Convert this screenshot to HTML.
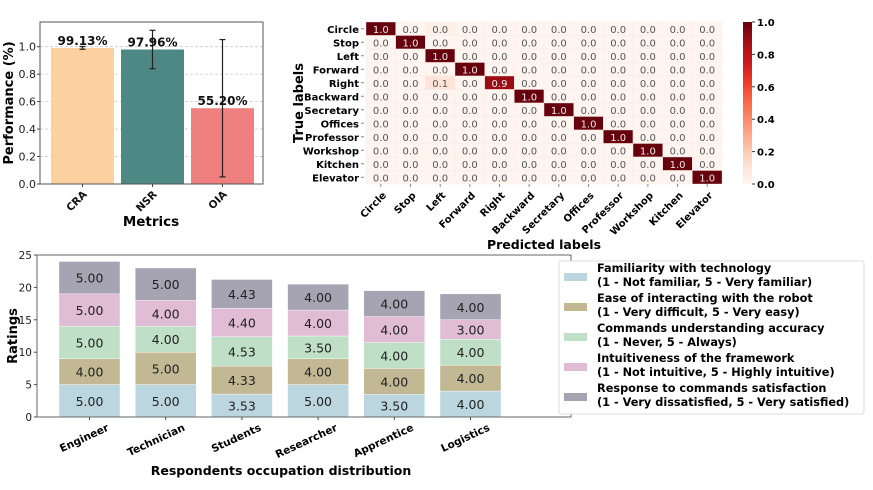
<!DOCTYPE html>
<html><head><meta charset="utf-8"><style>
html,body{margin:0;padding:0;background:#fff;width:873px;height:490px;overflow:hidden}
svg{font-family:"DejaVu Sans","Liberation Sans",sans-serif;display:block}
</style></head><body>
<svg id="s" width="873" height="490" viewBox="0 0 873 490" xmlns="http://www.w3.org/2000/svg"></svg>
<script>
// ---- Performance chart data ----
const perfCats = ['CRA','NSR','OIA'];
const perfVals = [0.9913, 0.9796, 0.552];
const perfErr = [0.01, 0.14, 0.50];
const perfLabels = ['99.13%','97.96%','55.20%'];
const perfColors = ['#fdd19f','#4e8884','#f08080'];
const perfTicks = [0,0.2,0.4,0.6,0.8,1.0];
// ---- Confusion matrix data ----
const cmLabels = ['Circle','Stop','Left','Forward','Right','Backward','Secretary','Offices','Professor','Workshop','Kitchen','Elevator'];
const cmOff = [[0,2,0.03],[4,2,0.1]];
const cmDiag = [1,1,1,1,0.9,1,1,1,1,1,1,1];
const cbTicks = [0,0.2,0.4,0.6,0.8,1.0];
// ---- Ratings chart data ----
const occCats = ['Engineer','Technician','Students','Researcher','Apprentice','Logistics'];
const serFamiliarity = [5,5,3.53,5,3.5,4];
const serEase = [4,5,4.33,4,4,4];
const serAccuracy = [5,4,4.53,3.5,4,4];
const serIntuitive = [5,4,4.40,4,4,3];
const serResponse = [5,5,4.43,4,4,4];
const ratTicks = [0,5,10,15,20,25];
const serNames = [['Familiarity with technology','(1 - Not familiar, 5 - Very familiar)'],['Ease of interacting with the robot','(1 - Very difficult, 5 - Very easy)'],['Commands understanding accuracy','(1 - Never, 5 - Always)'],['Intuitiveness of the framework','(1 - Not intuitive, 5 - Highly intuitive)'],['Response to commands satisfaction','(1 - Very dissatisfied, 5 - Very satisfied)']];
const serColors = ['#bcd6e0','#c2b894','#bfe0c7','#e0bcd5','#a6a3b2'];

const S=document.getElementById('s');const NS='http://www.w3.org/2000/svg';
function el(t,a,txt){const e=document.createElementNS(NS,t);for(const k in a)e.setAttribute(k,a[k]);if(txt!==undefined)e.textContent=txt;S.appendChild(e);return e;}

// ===== Performance =====
const pY=v=>184-v*137.3, pX=i=>82.5+i*70;
perfTicks.forEach(t=>{
  let g=el('line',{x1:40,x2:263,y1:pY(t),y2:pY(t),stroke:'#ccc','stroke-dasharray':'3,2','stroke-width':0.8});
  
  let l=el('text',{x:36,y:pY(t)+4,'font-size':11,'text-anchor':'end',fill:'#222'},t.toFixed(1));
  
  el('line',{x1:37,x2:40,y1:pY(t),y2:pY(t),stroke:'#444'});
});
perfVals.forEach((v,i)=>{
  let r=el('rect',{x:pX(i)-31.5,y:pY(v),width:63,height:pY(0)-pY(v),fill:perfColors[i]});
  
  let e=el('g',{stroke:'#222','stroke-width':1.2});
  
  const t=pY(v+perfErr[i]),b=pY(v-perfErr[i]);
  [[pX(i),t,pX(i),b],[pX(i)-3,t,pX(i)+3,t],[pX(i)-3,b,pX(i)+3,b]].forEach(c=>{const ln=document.createElementNS(NS,'line');ln.setAttribute('x1',c[0]);ln.setAttribute('y1',c[1]);ln.setAttribute('x2',c[2]);ln.setAttribute('y2',c[3]);e.appendChild(ln);});
  let lb=el('text',{x:pX(i),y:pY(v)-3,'font-size':12,'font-weight':'bold','text-anchor':'middle',fill:'#111'},perfLabels[i]);
  
  el('line',{x1:pX(i),x2:pX(i),y1:184,y2:187,stroke:'#444'});
  let xl=el('text',{x:pX(i)+5,y:195,'font-size':10.5,'font-weight':'bold','text-anchor':'end',transform:`rotate(-45 ${pX(i)+5} 195)`,fill:'#111'},perfCats[i]);
  
});
let pf=el('rect',{x:40,y:22,width:223,height:162,fill:'none',stroke:'#555','stroke-width':1});

let pyt=el('text',{x:13,y:103,'font-size':13,'font-weight':'bold','text-anchor':'middle',transform:'rotate(-90 13 103)'},'Performance (%)');

let pxt=el('text',{x:151,y:226,'font-size':13.5,'font-weight':'bold','text-anchor':'middle'},'Metrics');


// ===== Confusion matrix =====
const cw=29.67,ch=13.5,cx0=366,cy0=22;
function reds(v){const st=[[0,[255,245,240]],[0.125,[254,224,210]],[0.25,[252,187,161]],[0.375,[252,146,114]],[0.5,[251,106,74]],[0.625,[239,59,44]],[0.75,[203,24,29]],[0.875,[165,15,21]],[1,[103,0,13]]];
  for(let i=1;i<st.length;i++){if(v<=st[i][0]){const a=st[i-1],b=st[i],t=(v-a[0])/(b[0]-a[0]);return 'rgb('+a[1].map((c,k)=>Math.round(c+(b[1][k]-c)*t)).join(',')+')';}}return 'rgb(103,0,13)';}
for(let r=0;r<12;r++)for(let c=0;c<12;c++){
  let v=r===c?cmDiag[r]:0; cmOff.forEach(o=>{if(o[0]===r&&o[1]===c)v=o[2];});
  let rc=el('rect',{x:cx0+c*cw,y:cy0+r*ch,width:cw,height:ch,fill:reds(v),stroke:'#fbe8e2','stroke-width':0.4});
  
  let tx=el('text',{x:cx0+c*cw+cw/2,y:cy0+r*ch+ch/2+4,'font-size':10,'text-anchor':'middle',fill:v>0.5?'#eee':'#555'},(Math.round(v*10)/10).toFixed(1));
  
}
cmLabels.forEach((n,i)=>{
  let yl=el('text',{x:359,y:cy0+i*ch+ch/2+4,'font-size':10,'font-weight':'bold','text-anchor':'end'},n);
  
  el('line',{x1:361,x2:364,y1:cy0+i*ch+ch/2,y2:cy0+i*ch+ch/2,stroke:'#888'});
  const xx=cx0+i*cw+cw/2;
  el('line',{x1:xx,x2:xx,y1:184,y2:187,stroke:'#888'});
  let xl=el('text',{x:xx+6,y:196,'font-size':10,'font-weight':'bold','text-anchor':'end',transform:`rotate(-45 ${xx+6} 196)`},n);
  
});
const defs=el('defs',{});defs.innerHTML='<linearGradient id="cbg" x1="0" y1="1" x2="0" y2="0">'+[0,0.125,0.25,0.375,0.5,0.625,0.75,0.875,1].map(o=>`<stop offset="${o}" stop-color="${reds(o)}"/>`).join('')+'</linearGradient>';
let cb=el('rect',{x:743,y:22,width:9,height:162,fill:'url(#cbg)'});

cbTicks.forEach(t=>{const y=184-t*162;el('line',{x1:752,x2:755,y1:y,y2:y,stroke:'#333'});
  let l=el('text',{x:757,y:y+4,'font-size':10,'font-weight':'bold'},t.toFixed(1));});
let cxt=el('text',{x:544,y:249,'font-size':12.5,'font-weight':'bold','text-anchor':'middle'},'Predicted labels');

let cyt=el('text',{x:303,y:103,'font-size':13,'font-weight':'bold','text-anchor':'middle',transform:'rotate(-90 303 103)'},'True labels');


// ===== Ratings stacked bars =====
const rY=v=>417-v*6.48, rX=i=>89.5+i*76.2;
const series=[serFamiliarity,serEase,serAccuracy,serIntuitive,serResponse];
ratTicks.forEach(t=>{el('line',{x1:34,x2:37,y1:rY(t),y2:rY(t),stroke:'#444'});
  let l=el('text',{x:32,y:rY(t)+4,'font-size':10.5,'text-anchor':'end',fill:'#222'},t);});
occCats.forEach((c,i)=>{
  let base=0;
  series.forEach((s,k)=>{
    const v=s[i];
    let r=el('rect',{x:rX(i)-30.5,y:rY(base+v),width:61,height:rY(base)-rY(base+v),fill:serColors[k],stroke:'#fff','stroke-width':0.4});
    
    let t=el('text',{x:rX(i),y:(rY(base)+rY(base+v))/2+5,'font-size':12.5,'text-anchor':'middle',fill:'#222'},v.toFixed(2));
    
    base+=v;
  });
  el('line',{x1:rX(i),x2:rX(i),y1:417,y2:420,stroke:'#444'});
  let xl=el('text',{x:rX(i)+20,y:430,'font-size':10.5,'font-weight':'bold','text-anchor':'end',transform:`rotate(-25 ${rX(i)+20} 430)`},c);
  
});
let rf=el('rect',{x:37,y:255,width:534,height:162,fill:'none',stroke:'#666','stroke-width':1});

let ryt=el('text',{x:17,y:336,'font-size':13,'font-weight':'bold','text-anchor':'middle',transform:'rotate(-90 17 336)'},'Ratings');

let rxt=el('text',{x:281,y:475,'font-size':12.5,'font-weight':'bold','text-anchor':'middle'},'Respondents occupation distribution');

let lg=el('rect',{x:559,y:261,width:305,height:153,fill:'#fff',stroke:'#ddd',rx:2});

serNames.forEach((n,k)=>{const cy=277+k*30;
  let p=el('rect',{x:564,y:cy-4,width:23,height:8,fill:serColors[k]});
  let t1=el('text',{x:597,y:cy-5,'font-size':11.3,'font-weight':'bold'},n[0]);
  let t2=el('text',{x:597,y:cy+9,'font-size':11.3,'font-weight':'bold'},n[1]);
});
</script>
</body></html>
